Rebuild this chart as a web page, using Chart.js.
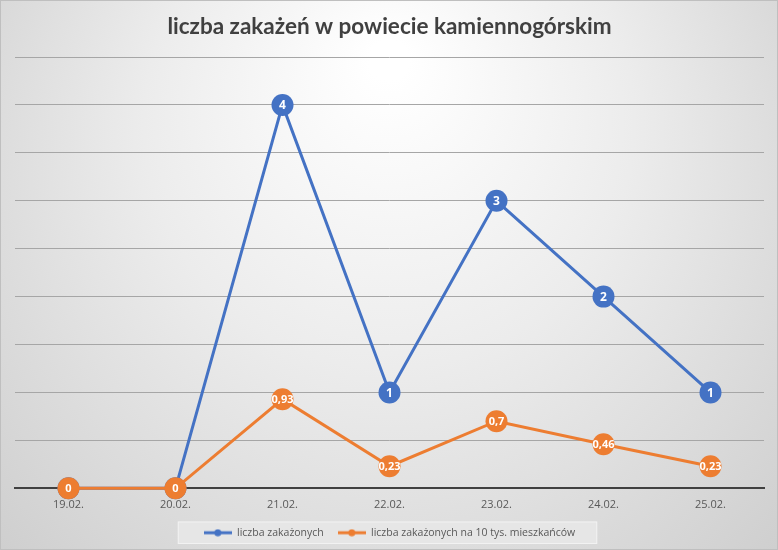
<!DOCTYPE html>
<html>
<head>
<meta charset="utf-8">
<script src="https://cdn.jsdelivr.net/npm/chart.js@4"></script>
<style>
  html, body { margin: 0; padding: 0; background: #fff; }
  #wrap { width: 778px; height: 550px; position: relative; }
</style>
</head>
<body>
<div id="wrap"><canvas id="chart" width="778" height="550"></canvas></div>
<script>
const labels = ["19.02.", "20.02.", "21.02.", "22.02.", "23.02.", "24.02.", "25.02."];
const cases = [0, 0, 4, 1, 3, 2, 1];
const casesPer10k = [0, 0, 0.93, 0.23, 0.7, 0.46, 0.23];
const seriesNames = ["liczba zakażonych", "liczba zakażonych na 10 tys. mieszkańców"];

const BLUE = "#4472C4";
const ORANGE = "#ED7D31";

function legendMarker(color) {
  const c = document.createElement("canvas");
  c.width = 28; c.height = 8;
  const g = c.getContext("2d");
  g.strokeStyle = color; g.lineWidth = 3;
  g.beginPath(); g.moveTo(0, 4); g.lineTo(28, 4); g.stroke();
  g.fillStyle = color;
  g.beginPath(); g.arc(14, 4, 3.5, 0, Math.PI * 2); g.fill();
  return c;
}

const bgPlugin = {
  id: "bg",
  beforeDraw(chart) {
    const { ctx, width, height } = chart;
    ctx.save();
    const grad = ctx.createRadialGradient(width / 2, 60, 20, width / 2, 200, 520);
    grad.addColorStop(0, "#ffffff");
    grad.addColorStop(0.45, "#ececec");
    grad.addColorStop(1, "#cfcfcf");
    ctx.fillStyle = grad;
    ctx.fillRect(0, 0, width, height);
    ctx.strokeStyle = "#bfbfbf";
    ctx.lineWidth = 1;
    ctx.strokeRect(0.5, 0.5, width - 1, height - 1);
    // legend panel
    const boxes = chart.legend && chart.legend.legendHitBoxes;
    if (boxes && boxes.length) {
      const l = Math.min(...boxes.map(b => b.left)) - 26;
      const r = Math.max(...boxes.map(b => b.left + b.width)) + 22;
      const t = boxes[0].top - 6;
      const b = boxes[0].top + boxes[0].height + 6;
      ctx.fillStyle = "#e6e6e6";
      ctx.fillRect(l, t, r - l, b - t);
      ctx.strokeStyle = "#f2f2f2";
      ctx.strokeRect(l + 0.5, t + 0.5, r - l - 1, b - t - 1);
    }
    ctx.restore();
  }
};

// labels drawn right after each dataset so a later series' points cover them
const pointLabels = {
  id: "pointLabels",
  afterDatasetDraw(chart, args) {
    const { ctx } = chart;
    const i = args.index;
    const ds = chart.data.datasets[i];
    ctx.save();
    ctx.fillStyle = "#ffffff";
    ctx.textAlign = "center";
    ctx.textBaseline = "middle";
    ctx.font = i === 0 ? "bold 12px 'Open Sans', sans-serif" : "bold 11px 'Open Sans', sans-serif";
    args.meta.data.forEach((pt, j) => {
      ctx.fillText(String(ds.data[j]).replace(".", ","), pt.x, pt.y + 1);
    });
    ctx.restore();
  }
};

new Chart(document.getElementById("chart"), {
  type: "line",
  data: {
    labels,
    datasets: [
      { label: seriesNames[0], data: cases, borderColor: BLUE, backgroundColor: BLUE,
        borderWidth: 3, pointRadius: 11, pointHoverRadius: 11, pointBorderWidth: 0,
        pointStyle: "circle", tension: 0, order: 2, clip: false },
      { label: seriesNames[1], data: casesPer10k, borderColor: ORANGE, backgroundColor: ORANGE,
        borderWidth: 3, pointRadius: 11, pointHoverRadius: 11, pointBorderWidth: 0,
        pointStyle: "circle", tension: 0, order: 1, clip: false },
    ]
  },
  options: {
    responsive: false,
    animation: false,
    layout: { padding: { left: 15, right: 14, top: 0, bottom: 2 } },
    plugins: {
      title: {
        display: true,
        text: "liczba zakażeń w powiecie kamiennogórskim",
        color: "#404040",
        font: { family: "Lato", size: 22.5, weight: "bold" },
        padding: { top: 13, bottom: 17 }
      },
      legend: {
        position: "bottom",
        labels: {
          color: "#595959",
          font: { family: "Open Sans", size: 10.5 },
          usePointStyle: true,
          pointStyleWidth: 28,
          padding: 14,
          sort: (a, b) => a.datasetIndex - b.datasetIndex,
          generateLabels: (chart) => chart.data.datasets.map((ds, i) => ({
            text: ds.label, fontColor: "#595959", datasetIndex: i,
            pointStyle: legendMarker(ds.borderColor), lineWidth: 0,
            strokeStyle: ds.borderColor, fillStyle: ds.borderColor
          }))
        }
      },
      tooltip: { enabled: false }
    },
    scales: {
      x: {
        offset: true,
        grid: { display: false },
        border: { color: "#404040", width: 2 },
        ticks: { color: "#595959", font: { family: "Open Sans", size: 11 }, padding: 2 }
      },
      y: {
        min: 0, max: 4.5,
        ticks: { display: false, stepSize: 0.5 },
        border: { display: false },
        grid: { color: "#a6a6a6", lineWidth: 1, drawTicks: false }
      }
    }
  },
  plugins: [bgPlugin, pointLabels]
});
</script>
</body>
</html>
